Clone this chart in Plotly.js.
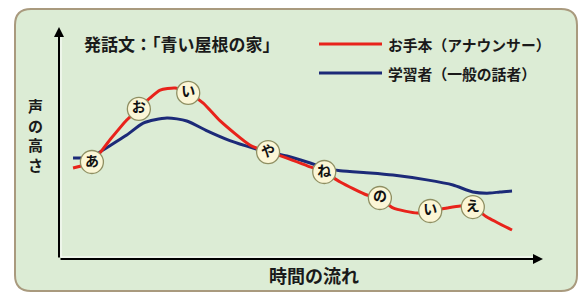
<!DOCTYPE html>
<html>
<head>
<meta charset="utf-8">
<script src="https://cdn.plot.ly/plotly-3.0.1.min.js"></script>
<style>html,body{margin:0;padding:0;background:#fff;}#chart{width:581px;height:293px;}</style>
</head>
<body>
<div id="chart"></div>
<script>
// ---- data (time 0-100, pitch 0-100) ----
const chartTitle = '発話文：「青い屋根の家」';
const xLabel = '時間の流れ';
const yLabel = '声の高さ';
const seriesNames = ['お手本（アナウンサー）', '学習者（一般の話者）'];

const redX = [2.9, 6.8, 10.5, 14.0, 16.5, 18.8, 20.9, 24.0, 26.7, 29.8, 33.3, 39.5, 43.2, 47.1, 51.9, 54.8, 58.1, 63.6, 66.3, 69.0, 74.0, 76.7, 80.2, 82.9, 85.5, 88.4, 93.6];
const redY = [39.2, 41.8, 51.3, 59.9, 64.7, 69.4, 72.8, 73.7, 71.6, 67.2, 59.5, 49.0, 46.1, 43.5, 39.7, 37.5, 33.2, 27.6, 26.3, 22.0, 19.8, 20.7, 22.0, 22.8, 22.4, 18.1, 12.5];

const blueX = [2.9, 6.8, 9.1, 14.0, 17.4, 22.3, 26.4, 30.6, 35.3, 40.1, 43.2, 47.1, 51.9, 54.8, 58.1, 64.3, 69.0, 76.0, 81.4, 85.5, 89.0, 91.1, 93.6];
const blueY = [43.5, 44.0, 47.0, 53.4, 58.6, 60.8, 59.5, 55.2, 51.0, 47.8, 46.1, 44.4, 41.4, 39.4, 38.0, 37.1, 36.2, 34.1, 31.9, 28.9, 28.4, 28.9, 29.3];

const moraText = ['あ', 'お', 'い', 'や', 'ね', 'の', 'い', 'え'];
const moraX = [6.8, 16.5, 26.7, 43.2, 54.8, 66.3, 76.7, 85.5];
const moraY = [41.8, 64.7, 71.6, 46.1, 37.5, 26.3, 20.7, 22.4];

// ---- layout helpers (pixel -> paper) ----
const W = 581, H = 293, ML = 59, MR = 38, MT = 27, MB = 34;
const PW = W - ML - MR, PH = H - MT - MB;
const X = px => (px - ML) / PW;
const Y = py => (H - MB - py) / PH;

const FONT = '"Noto Sans CJK JP", "Noto Sans", sans-serif';
const RED = '#e8231b', BLUE = '#1c2a78';

// rounded panel
const L = 15, R = 577, T = 9, B = 291, r = 16;
const panelPath = `M ${X(L + r)},${Y(T)} L ${X(R - r)},${Y(T)} Q ${X(R)},${Y(T)} ${X(R)},${Y(T + r)} ` +
  `L ${X(R)},${Y(B - r)} Q ${X(R)},${Y(B)} ${X(R - r)},${Y(B)} L ${X(L + r)},${Y(B)} ` +
  `Q ${X(L)},${Y(B)} ${X(L)},${Y(B - r)} L ${X(L)},${Y(T + r)} Q ${X(L)},${Y(T)} ${X(L + r)},${Y(T)} Z`;

const traces = [
  {x: blueX, y: blueY, name: seriesNames[1], mode: 'lines', type: 'scatter',
   line: {color: BLUE, width: 3, shape: 'spline', smoothing: 0.7}, hoverinfo: 'skip'},
  {x: redX, y: redY, name: seriesNames[0], mode: 'lines', type: 'scatter',
   line: {color: RED, width: 3, shape: 'spline', smoothing: 0.6}, hoverinfo: 'skip'},
  {x: moraX, y: moraY, text: moraText, mode: 'markers+text', type: 'scatter',
   textposition: 'middle center',
   textfont: {family: FONT, size: 14, color: '#111', weight: 'bold'},
   marker: {size: 23, color: '#fbf6d6', line: {color: '#8f8f62', width: 1.3}},
   hoverinfo: 'skip', showlegend: false}
];

const layout = {
  width: W, height: H,
  margin: {l: ML, r: MR, t: MT, b: MB, pad: 0},
  paper_bgcolor: '#ffffff',
  plot_bgcolor: 'rgba(0,0,0,0)',
  showlegend: false,
  xaxis: {range: [0, 100], visible: false, fixedrange: true},
  yaxis: {range: [0, 100], visible: false, fixedrange: true},
  shapes: [
    {type: 'path', xref: 'paper', yref: 'paper', path: panelPath, layer: 'below',
     fillcolor: '#dcecd5', line: {color: '#a99a7e', width: 2}},
    // inner white highlight of axes
    {type: 'line', xref: 'paper', yref: 'paper', x0: X(61), x1: X(61), y0: Y(257), y1: Y(34),
     line: {color: '#ffffff', width: 1}, layer: 'below'},
    {type: 'line', xref: 'paper', yref: 'paper', x0: X(61), x1: X(536), y0: Y(257), y1: Y(257),
     line: {color: '#ffffff', width: 1}, layer: 'below'},
    // legend lines
    {type: 'line', xref: 'paper', yref: 'paper', x0: X(319), x1: X(382), y0: Y(44), y1: Y(44),
     line: {color: RED, width: 3}},
    {type: 'line', xref: 'paper', yref: 'paper', x0: X(319), x1: X(382), y0: Y(73), y1: Y(73),
     line: {color: BLUE, width: 3}}
  ],
  annotations: [
    // axes arrows
    {xref: 'paper', yref: 'paper', x: 0, y: 1, ax: 0, ay: PH, text: '', showarrow: true,
     arrowhead: 2, arrowsize: 1, arrowwidth: 2, arrowcolor: '#000'},
    {xref: 'paper', yref: 'paper', x: 1, y: 0, ax: -PW, ay: 0, text: '', showarrow: true,
     arrowhead: 2, arrowsize: 1, arrowwidth: 2, arrowcolor: '#000'},
    // title
    {xref: 'paper', yref: 'paper', x: X(82), y: Y(43), xanchor: 'left', yanchor: 'middle',
     text: chartTitle, showarrow: false,
     font: {family: FONT, size: 17, color: '#1a1a1a', weight: 'bold'}},
    // legend texts
    {xref: 'paper', yref: 'paper', x: X(386), y: Y(44), xanchor: 'left', yanchor: 'middle',
     text: seriesNames[0], showarrow: false,
     font: {family: FONT, size: 14.8, color: '#1a1a1a', weight: 'bold'}},
    {xref: 'paper', yref: 'paper', x: X(386), y: Y(73), xanchor: 'left', yanchor: 'middle',
     text: seriesNames[1], showarrow: false,
     font: {family: FONT, size: 14.8, color: '#1a1a1a', weight: 'bold'}},
    // axis labels
    {xref: 'paper', yref: 'paper', x: X(35), y: Y(135), xanchor: 'center', yanchor: 'middle',
     text: yLabel.split('').join('<br>'), showarrow: false,
     font: {family: FONT, size: 15, color: '#1a1a1a', weight: 'bold'}},
    {xref: 'paper', yref: 'paper', x: X(314), y: Y(275), xanchor: 'center', yanchor: 'middle',
     text: xLabel, showarrow: false,
     font: {family: FONT, size: 18, color: '#1a1a1a', weight: 'bold'}}
  ]
};

Plotly.newPlot('chart', traces, layout, {staticPlot: true, displayModeBar: false});
</script>
</body>
</html>
